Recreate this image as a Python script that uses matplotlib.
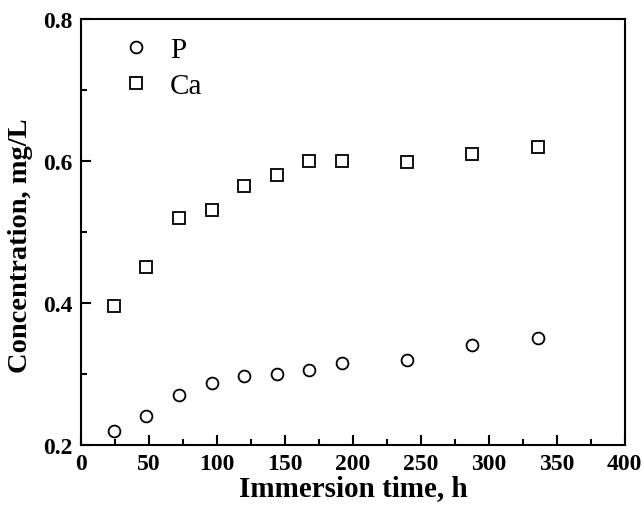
import numpy as np
import matplotlib
matplotlib.use('Agg')
import matplotlib.pyplot as plt
from matplotlib.ticker import MultipleLocator

plt.rcParams['font.family'] = ['Liberation Serif', 'DejaVu Serif']

time_h = [24, 48, 72, 96, 120, 144, 168, 192, 240, 288, 336]
p_conc = [0.22, 0.24, 0.27, 0.287, 0.297, 0.30, 0.305, 0.315, 0.32, 0.34, 0.35]
ca_conc = [0.395, 0.45, 0.52, 0.53, 0.565, 0.58, 0.60, 0.60, 0.598, 0.61, 0.62]

fig = plt.figure(figsize=(6.44, 5.06), dpi=100)
ax = fig.add_axes([0.126, 0.119, 0.844, 0.842])

ax.plot(time_h, p_conc, 'o', mfc='white', mec='black', mew=1.3, ms=8.5, label='P')
ax.plot(time_h, ca_conc, 's', mfc='white', mec='black', mew=1.3, ms=8, label='Ca')

ax.set_xlim(0, 400)
ax.set_ylim(0.2, 0.8)
ax.xaxis.set_major_locator(MultipleLocator(50))
ax.xaxis.set_minor_locator(MultipleLocator(25))
ax.yaxis.set_major_locator(MultipleLocator(0.2))
ax.yaxis.set_minor_locator(MultipleLocator(0.1))
ax.tick_params(which='both', direction='in', top=False, right=False, width=1.5)
ax.tick_params(which='major', length=7, labelsize=17, pad=6)
ax.tick_params(which='minor', length=4)
for lab in ax.get_xticklabels() + ax.get_yticklabels():
    lab.set_fontweight('bold')
for s in ax.spines.values():
    s.set_linewidth(1.5)

ax.set_xlabel('Immersion time, h', fontsize=21, fontweight='bold', labelpad=0)
ax.set_ylabel('Concentration, mg/L', fontsize=20.5, fontweight='bold')
ax.yaxis.set_label_coords(-0.088, 0.47)

ax.legend(loc='upper left', frameon=False, fontsize=21, handlelength=1.0,
          handletextpad=0.65, borderaxespad=0, labelspacing=0.35,
          markerscale=1.0, bbox_to_anchor=(0.053, 0.986))

fig.savefig('out.png', dpi=100)
